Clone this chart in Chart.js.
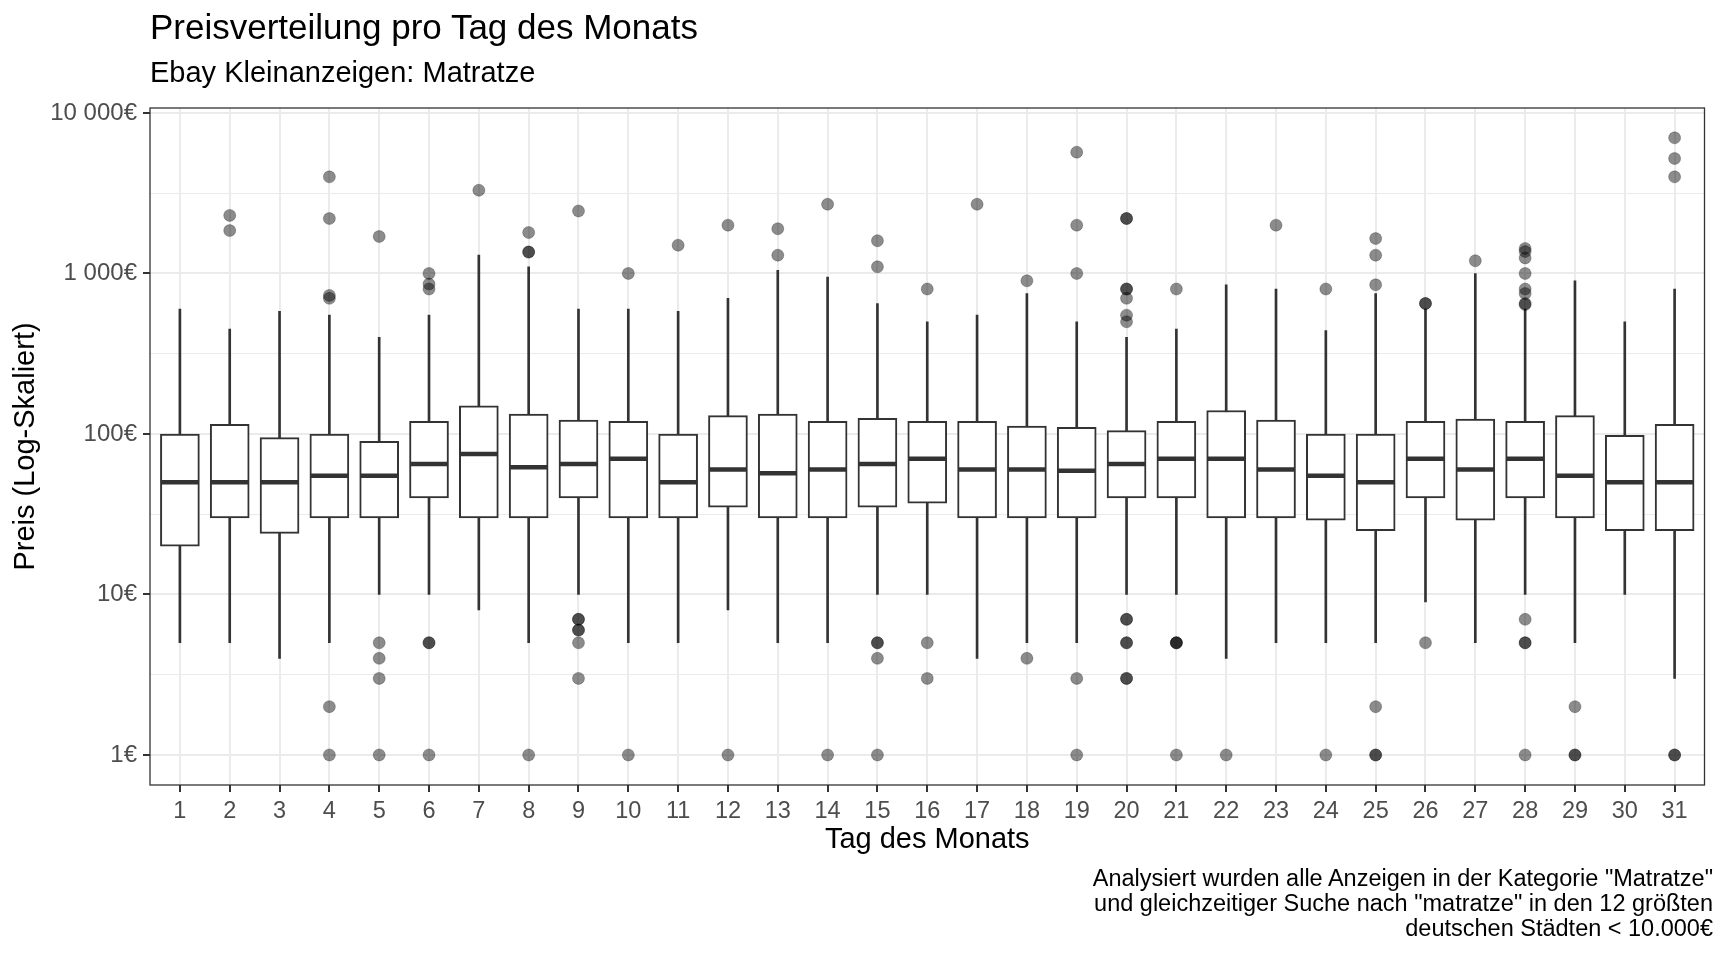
<!DOCTYPE html>
<html>
<head>
<meta charset="utf-8">
<title>Preisverteilung pro Tag des Monats</title>
<script src="https://cdn.jsdelivr.net/npm/chart.js@4.4.1/dist/chart.umd.min.js"></script>
<style>
    html, body { margin: 0; padding: 0; background: #ffffff; }
    #wrap { position: relative; width: 1728px; height: 960px; font-family: "Liberation Sans", Arial, Helvetica, sans-serif; color: #000; }
    #chart { position: absolute; left: 0; top: 0; }
    .title { position: absolute; left: 150px; top: 9px; font-size: 35px; line-height: 35px; white-space: nowrap; }
    .subtitle { position: absolute; left: 150px; top: 58px; font-size: 29px; line-height: 29px; white-space: nowrap; }
    .caption { position: absolute; right: 15px; top: 866px; font-size: 23.5px; line-height: 25px; text-align: right; white-space: nowrap; }
</style>
</head>
<body>
<div id="wrap">
    <canvas id="chart" width="1728" height="960"></canvas>
    <div class="title">Preisverteilung pro Tag des Monats</div>
    <div class="subtitle">Ebay Kleinanzeigen: Matratze</div>
    <div class="caption">Analysiert wurden alle Anzeigen in der Kategorie "Matratze"<br>und gleichzeitiger Suche nach "matratze" in den 12 größten<br>deutschen Städten &lt; 10.000€</div>
</div>
<script>
// Tag des Monats
const days = [1, 2, 3, 4, 5, 6, 7, 8, 9, 10, 11, 12, 13, 14, 15, 16, 17, 18, 19, 20, 21, 22, 23, 24, 25, 26, 27, 28, 29, 30, 31];

// Boxplot-Kennzahlen (Preis in €)
const whiskerLow  = [5, 5, 4, 5, 10, 10, 8, 5, 10, 5, 5, 8, 5, 5, 10, 10, 4, 5, 5, 10, 10, 4, 5, 5, 5, 9, 5, 10, 5, 10, 3];
const q1          = [20, 30, 24, 30, 30, 40, 30, 30, 40, 30, 30, 35, 30, 30, 35, 37, 30, 30, 30, 40, 40, 30, 30, 29, 25, 40, 29, 40, 30, 25, 25];
const median      = [50, 50, 50, 55, 55, 65, 75, 62, 65, 70, 50, 60, 57, 60, 65, 70, 60, 60, 59, 65, 70, 70, 60, 55, 50, 70, 60, 70, 55, 50, 50];
const q3          = [100, 115, 95, 100, 90, 120, 150, 133, 122, 120, 100, 130, 133, 120, 125, 120, 120, 112, 110, 105, 120, 140, 122, 100, 100, 120, 124, 120, 130, 98, 115];
const whiskerHigh = [600, 450, 580, 550, 400, 550, 1300, 1100, 600, 600, 580, 700, 1045, 950, 650, 500, 550, 750, 500, 400, 450, 850, 800, 440, 750, 600, 1000, 600, 900, 500, 800];

// Ausreißer je Tag
const outliers = [
    [],
    [2300, 1850],
    [],
    [4000, 2200, 730, 700, 2, 1],
    [1700, 5, 4, 3, 1],
    [1000, 860, 800, 5, 5, 1],
    [3300],
    [1800, 1360, 1360, 1],
    [2450, 7, 7, 6, 6, 5, 3],
    [1000, 1],
    [1500],
    [2000, 1],
    [1900, 1300],
    [2700, 1],
    [1600, 1100, 5, 5, 4, 1],
    [800, 5, 3],
    [2700],
    [900, 4],
    [5700, 2000, 1000, 3, 1],
    [2200, 2200, 800, 800, 700, 550, 500, 7, 7, 5, 5, 3, 3],
    [800, 5, 5, 5, 1],
    [1],
    [2000],
    [800, 1],
    [1650, 1300, 850, 2, 1, 1],
    [650, 650, 5],
    [1200],
    [1430, 1370, 1250, 1000, 800, 750, 650, 640, 7, 5, 5, 1],
    [2, 1, 1],
    [],
    [7000, 5200, 4000, 1, 1]
];

// Achsenbeschriftung
const yTickValues = [1, 10, 100, 1000, 10000];
const yTickLabels = ['1€', '10€', '100€', '1 000€', '10 000€'];

const FONT = '"Liberation Sans", Arial, Helvetica, sans-serif';

// minor grid lines halfway between decades (log space)
const yGridValues = [];
yTickValues.forEach((v, i) => {
    yGridValues.push(v);
    if (i < yTickValues.length - 1) yGridValues.push(Math.sqrt(v * yTickValues[i + 1]));
});
const isMajor = v => yTickValues.indexOf(v) !== -1;

const outlierPoints = [];
days.forEach((d, i) => {
    outliers[i].forEach(v => outlierPoints.push({ x: d, y: v }));
});

// panel border like theme_bw
const panelBorder = {
    id: 'panelBorder',
    afterDraw(chart) {
        const { ctx, chartArea } = chart;
        ctx.save();
        ctx.strokeStyle = '#333333';
        ctx.lineWidth = 1.3;
        ctx.strokeRect(chartArea.left, chartArea.top, chartArea.right - chartArea.left, chartArea.bottom - chartArea.top);
        ctx.restore();
    }
};

const chart = new Chart(document.getElementById('chart'), {
    type: 'bar',
    data: {
        datasets: [{
            label: 'Whisker',
            data: days.map((d, i) => ({ x: d, y: [whiskerLow[i], whiskerHigh[i]] })),
            backgroundColor: '#333333',
            borderWidth: 0,
            barThickness: 2,
            grouped: false,
            order: 3
        }, {
            label: 'Box',
            data: days.map((d, i) => ({ x: d, y: [q1[i], q3[i]] })),
            backgroundColor: '#ffffff',
            borderColor: '#333333',
            borderWidth: 2,
            borderSkipped: false,
            barThickness: 39,
            grouped: false,
            order: 2
        }, {
            type: 'scatter',
            label: 'Median',
            data: days.map((d, i) => ({ x: d, y: median[i] })),
            pointStyle: 'line',
            pointRadius: 19,
            pointBorderColor: '#333333',
            pointBorderWidth: 4.5,
            order: 1
        }, {
            type: 'scatter',
            label: 'Ausreißer',
            data: outlierPoints,
            pointStyle: 'circle',
            pointRadius: 6,
            pointBackgroundColor: 'rgba(0, 0, 0, 0.45)',
            pointBorderColor: 'rgba(0, 0, 0, 0.25)',
            pointBorderWidth: 1,
            order: 0
        }]
    },
    options: {
        responsive: false,
        devicePixelRatio: 1,
        animation: false,
        events: [],
        layout: {
            padding: { top: 108, right: 15, bottom: 101, left: 0 }
        },
        plugins: {
            legend: { display: false },
            tooltip: { enabled: false }
        },
        scales: {
            x: {
                type: 'linear',
                min: 0.4,
                max: 31.6,
                offset: false,
                afterBuildTicks: scale => { scale.ticks = days.map(v => ({ value: v })); },
                afterFit: scale => { scale.height = 74; },
                grid: {
                    offset: false,
                    color: '#ebebeb',
                    lineWidth: 2,
                    drawTicks: true,
                    tickLength: 7,
                    tickColor: '#333333',
                    tickWidth: 2
                },
                border: { display: false },
                ticks: {
                    autoSkip: false,
                    maxRotation: 0,
                    padding: 5,
                    color: '#4d4d4d',
                    font: { family: FONT, size: 23.5 },
                    callback: v => String(v)
                },
                title: {
                    display: true,
                    text: 'Tag des Monats',
                    color: '#000000',
                    font: { family: FONT, size: 29 },
                    padding: { top: 0, bottom: 2 }
                }
            },
            y: {
                type: 'logarithmic',
                min: 0.65,
                max: 10740,
                afterBuildTicks: scale => { scale.ticks = yGridValues.map(v => ({ value: v })); },
                afterFit: scale => { scale.width = 150; },
                grid: {
                    color: '#ebebeb',
                    lineWidth: c => isMajor(c.tick.value) ? 2 : 1,
                    drawTicks: true,
                    tickLength: 7,
                    tickColor: c => isMajor(c.tick.value) ? '#333333' : 'rgba(0,0,0,0)',
                    tickWidth: 2
                },
                border: { display: false },
                ticks: {
                    autoSkip: false,
                    padding: 6,
                    color: '#4d4d4d',
                    font: { family: FONT, size: 24 },
                    callback: v => {
                        const i = yTickValues.indexOf(v);
                        return i === -1 ? '' : yTickLabels[i];
                    }
                },
                title: {
                    display: true,
                    text: 'Preis (Log-Skaliert)',
                    color: '#000000',
                    font: { family: FONT, size: 29 },
                    padding: { top: 9, bottom: 0 }
                }
            }
        }
    },
    plugins: [panelBorder]
});
</script>
</body>
</html>
